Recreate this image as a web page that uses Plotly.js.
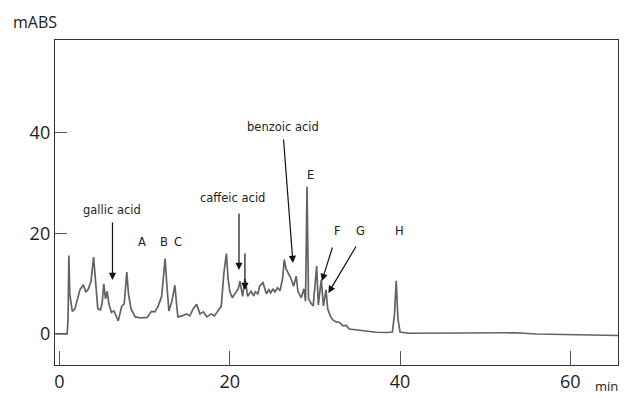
<!DOCTYPE html>
<html>
<head>
<meta charset="utf-8">
<script src="https://cdn.plot.ly/plotly-3.0.1.min.js"></script>
<style>html,body{margin:0;padding:0;background:#fff;}#chart{width:625px;height:398px;}</style>
</head>
<body>
<div id="chart"></div>
<script>
// Retention time (min)
var timeMin = [-0.5, 0.9, 1.0, 1.1, 1.2, 1.5, 1.8, 2.1, 2.4, 2.8, 3.1, 3.4, 3.7, 4.0, 4.2, 4.5, 4.8, 5.0, 5.2, 5.4,
  5.6, 5.8, 6.1, 6.4, 6.9, 7.3, 7.6, 7.9, 8.1, 8.4, 8.9, 9.5, 10.3, 10.8, 11.2, 11.6, 12.0, 12.4, 12.6, 12.85,
  13.2, 13.55, 13.75, 13.9, 14.4, 14.9, 15.3, 15.7, 16.1, 16.5, 16.9, 17.3, 17.8, 18.2, 18.6, 19.0, 19.3, 19.6, 19.8, 20.0,
  20.3, 20.6, 21.0, 21.2, 21.5, 21.8, 22.1, 22.5, 22.8, 23.0, 23.3, 23.5, 23.9, 24.3, 24.6, 24.8, 25.1, 25.3, 25.6, 25.9,
  26.2, 26.4, 26.6, 26.9, 27.2, 27.5, 27.8, 28.0, 28.4, 28.7, 28.9, 29.07, 29.25, 29.5, 29.8, 30.0, 30.2, 30.4, 30.75, 31.0,
  31.3, 31.5, 31.8, 32.1, 32.5, 32.9, 33.3, 33.7, 34.0, 35.0, 36.0, 37.2, 38.5, 39.1, 39.35, 39.55, 39.75, 40.0, 41.0, 45.0,
  50.0, 53.6, 56.0, 60.0, 65.6];
// Absorbance (mABS)
var absorbance = [0, 0, 3, 15.6, 8, 4.5, 5.0, 7.0, 8.8, 9.8, 8.3, 9.0, 10.5, 15.3, 10.5, 5.0, 4.8, 6.0, 10.0, 7.0,
  8.5, 6.0, 4.3, 4.6, 2.6, 5.5, 6.0, 12.3, 8.0, 5.0, 3.4, 3.2, 3.3, 4.5, 4.4, 5.6, 7.5, 15.0, 10.0, 4.6,
  6.5, 9.7, 6.0, 3.4, 3.6, 4.0, 3.6, 5.0, 5.9, 4.0, 4.4, 3.4, 4.0, 3.6, 4.6, 5.5, 12.0, 16.0, 11.0, 8.5,
  7.2, 8.0, 9.0, 10.5, 7.5, 11.0, 7.5, 8.5, 7.6, 8.4, 8.0, 9.5, 10.2, 8.0, 8.8, 8.2, 9.0, 8.3, 9.2, 8.6,
  11.0, 14.8, 13.0, 12.0, 11.0, 9.5, 11.5, 8.5, 7.2, 9.0, 6.5, 29.3, 7.0, 6.2, 5.6, 9.5, 13.5, 5.8, 10.8, 5.6,
  8.8, 5.0, 3.6, 2.8, 2.4, 2.3, 1.6, 1.7, 1.0, 0.8, 0.6, 0.35, 0.3, 0.4, 4.0, 10.6, 3.0, 0.4, 0.15, 0.15,
  0.1, 0.25, 0.0, -0.1, -0.3];

var xTickVals = [0, 20, 40, 60];
var yTickVals = [0, 20, 40];

// Peak labels
var labelText = ['gallic acid', 'A', 'B', 'C', 'caffeic acid', 'benzoic acid', 'E', 'F', 'G', 'H'];
var labelX = [6.16, 9.69, 12.27, 13.91, 20.37, 26.24, 29.53, 32.7, 35.4, 39.98];
var labelY = [24.7, 18.3, 18.3, 18.3, 27.1, 41.2, 31.6, 20.5, 20.5, 20.5];

// Arrows (tip in data units, tail offset in pixels)
var arrowX = [6.22, 21.08, 21.78, 27.42, 30.82, 31.58];
var arrowY = [10.75, 12.74, 8.76, 14.13, 10.55, 8.16];
var arrowAx = [0, 0, 0, -9.5, 11, 28.5];
var arrowAy = [-59, -58, -38, -125, -35, -48];

var annotations = [];
for (var i = 0; i < labelText.length; i++) {
  annotations.push({x: labelX[i], y: labelY[i], xref: 'x', yref: 'y', text: labelText[i], showarrow: false,
    font: {family: 'DejaVu Sans', size: 11.5, color: '#222'}, xanchor: 'center', yanchor: 'middle'});
}
for (var j = 0; j < arrowX.length; j++) {
  annotations.push({x: arrowX[j], y: arrowY[j], xref: 'x', yref: 'y', text: '', showarrow: true,
    ax: arrowAx[j], ay: arrowAy[j], arrowhead: 2, arrowsize: 1.2, arrowwidth: 1.2, arrowcolor: '#111', standoff: 0});
}
annotations.push({xref: 'paper', yref: 'paper', x: -0.036, y: 1.055, text: 'mABS', showarrow: false,
  font: {family: 'Open Sans', size: 16, color: '#222'}, xanchor: 'center', yanchor: 'middle'});
annotations.push({xref: 'paper', yref: 'paper', x: 0.979, y: -0.066, text: 'min', showarrow: false,
  font: {family: 'Open Sans', size: 13, color: '#222'}, xanchor: 'center', yanchor: 'middle'});

var trace = {
  x: timeMin, y: absorbance, type: 'scatter', mode: 'lines',
  line: {color: 'rgba(70,70,70,0.85)', width: 1.7, shape: 'linear'},
  hoverinfo: 'skip'
};

var axisCommon = {
  showgrid: false, zeroline: false, showline: true, mirror: true,
  linecolor: '#333', linewidth: 1.2, ticks: 'inside', tickcolor: '#555', tickwidth: 1,
  tickfont: {family: 'Open Sans', size: 18, color: '#222'}, tickmode: 'array'
};

var layout = {
  width: 625, height: 398,
  margin: {l: 55, r: 7, t: 40, b: 33},
  paper_bgcolor: '#fff', plot_bgcolor: '#fff',
  showlegend: false,
  xaxis: Object.assign({}, axisCommon, {range: [-0.53, 65.6], tickvals: xTickVals, ticklen: 14}),
  yaxis: Object.assign({}, axisCommon, {range: [-6.17, 58.5], tickvals: yTickVals, ticklen: 12}),
  annotations: annotations
};

Plotly.newPlot('chart', [trace], layout, {displayModeBar: false, staticPlot: true});
</script>
</body>
</html>
